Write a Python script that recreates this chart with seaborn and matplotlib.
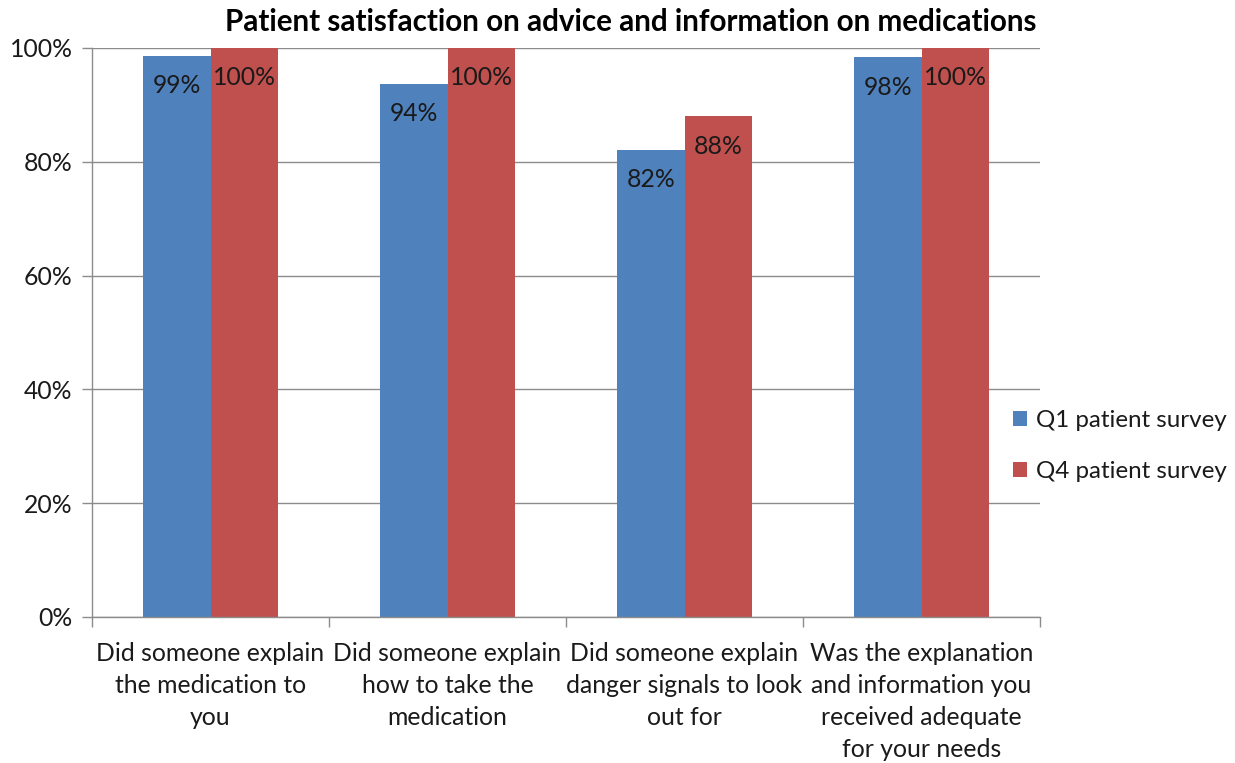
import matplotlib
matplotlib.use("Agg")
import matplotlib.pyplot as plt
import seaborn as sns
import pandas as pd
from matplotlib.ticker import FixedLocator, PercentFormatter

# Survey questions (category axis)
questions = [
    "Did someone explain\nthe medication to\nyou",
    "Did someone explain\nhow to take the\nmedication",
    "Did someone explain\ndanger signals to look\nout for",
    "Was the explanation\nand information you\nreceived adequate\nfor your needs",
]
series_names = ["Q1 patient survey", "Q4 patient survey"]
q1_values = [98.6, 93.7, 82.1, 98.4]
q4_values = [100, 100, 88, 100]
y_ticks = [0, 20, 40, 60, 80, 100]

colors = ["#4F81BD", "#C0504D"]

df = pd.DataFrame({
    "question": questions * 2,
    "survey": [series_names[0]] * len(questions) + [series_names[1]] * len(questions),
    "value": q1_values + q4_values,
})

sns.set_theme(style="white")
plt.rcParams["font.family"] = ["Lato", "DejaVu Sans"]

W, H = 1235, 763
fig = plt.figure(figsize=(W / 100, H / 100), dpi=100)
ax = fig.add_axes([92 / W, 1 - 617 / H, (1040 - 92) / W, (617 - 48) / H])

sns.barplot(data=df, x="question", y="value", hue="survey", order=questions,
            hue_order=series_names, palette=colors, width=0.566, gap=0,
            saturation=1, errorbar=None, linewidth=0, ax=ax, legend=True)

ax.set_xlim(-0.5, len(questions) - 0.5)
ax.set_ylim(0, 100)
ax.set_yticks(y_ticks)
ax.yaxis.set_major_formatter(PercentFormatter(decimals=0))
ax.set_xlabel("")
ax.set_ylabel("")

text_color = "#1a1a1a"
grid_color = "#8C8C8C"
ax.yaxis.grid(True, color=grid_color, linewidth=1)
ax.set_axisbelow(True)
for side in ["top", "right"]:
    ax.spines[side].set_visible(False)
for side in ["left", "bottom"]:
    ax.spines[side].set_color(grid_color)
    ax.spines[side].set_linewidth(1)

# Tick marks sit on category boundaries; labels sit at the centers
ax.xaxis.set_minor_locator(FixedLocator([i - 0.5 for i in range(len(questions) + 1)]))
ax.tick_params(axis="x", which="major", length=0, pad=18, labelsize=17.8, labelcolor=text_color)
ax.tick_params(axis="x", which="minor", length=7, width=1, color=grid_color, direction="out", bottom=True)
ax.tick_params(axis="y", which="major", length=7, width=1, color=grid_color, direction="out",
               left=True, pad=7, labelsize=17.8, labelcolor=text_color)
for lbl in ax.get_xticklabels():
    lbl.set_ha("center")
    lbl.set_multialignment("center")
    lbl.set_va("top")
    lbl.set_linespacing(1.48)

# Value labels just inside the top of each bar
for container in ax.containers:
    for bar in container:
        h = bar.get_height()
        ax.annotate(f"{h:.0f}%", (bar.get_x() + bar.get_width() / 2, h),
                    xytext=(0, -30), textcoords="offset pixels",
                    ha="center", va="center", fontsize=17.8, color=text_color)

leg = ax.legend(loc="center left", bbox_to_anchor=(991 / W, 1 - 446 / H),
                bbox_transform=fig.transFigure, frameon=False, fontsize=17.4,
                handlelength=0.6, handleheight=0.6, handletextpad=0.35, labelspacing=1.25)
for t in leg.get_texts():
    t.set_color(text_color)

fig.text(631 / W, 1 - 22 / H, "Patient satisfaction on advice and information on medications",
         ha="center", va="center", fontsize=21.3, fontweight="bold", color="black")

fig.savefig("out.png", dpi=100, facecolor="white")
